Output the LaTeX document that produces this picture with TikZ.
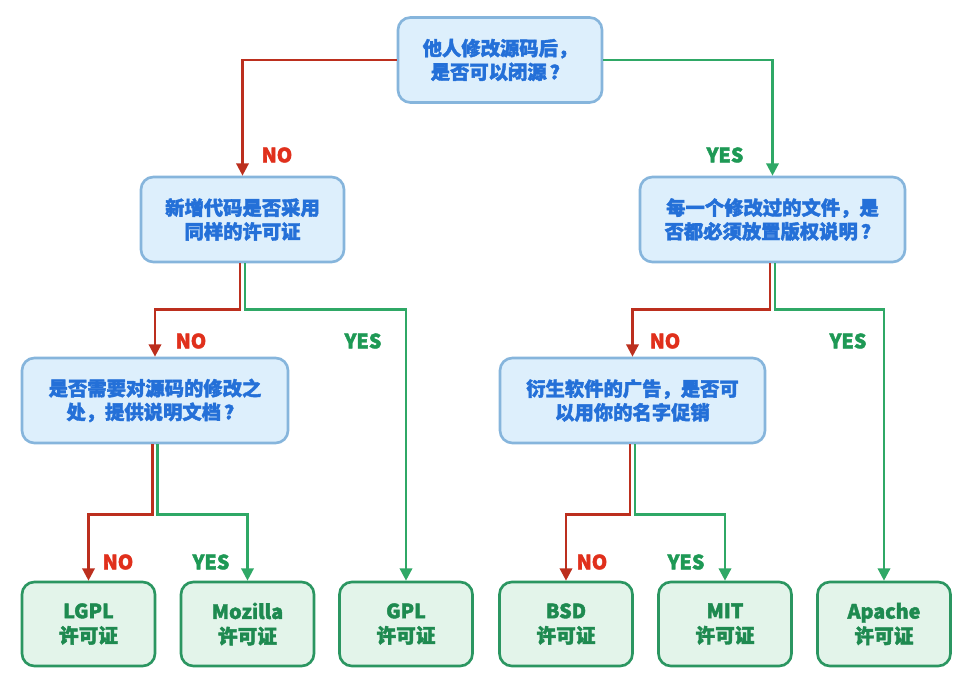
\documentclass[tikz,border=0pt]{standalone}
\usepackage{fontspec}
\setmainfont{Noto Sans CJK SC}[BoldFeatures={FakeBold=2}]
\usetikzlibrary{arrows.meta}
\definecolor{qfill}{HTML}{DDEFFC}
\definecolor{qdraw}{HTML}{86B5DC}
\definecolor{qtext}{HTML}{2470D8}
\definecolor{lfill}{HTML}{E3F4EA}
\definecolor{ldraw}{HTML}{2B9661}
\definecolor{ltext}{HTML}{1E8A50}
\definecolor{redline}{HTML}{BC2F1E}
\definecolor{redtext}{HTML}{E0301C}
\definecolor{greenline}{HTML}{2FA866}
\definecolor{greentext}{HTML}{1E9955}
\tikzset{
  qbox/.style={draw=qdraw, fill=qfill, line width=1.5pt, rounded corners=7pt,
    minimum height=1.7cm, align=center, text=qtext,
    font=\fontsize{11}{13.5}\selectfont\bfseries},
  leaf/.style={draw=ldraw, fill=lfill, line width=1.5pt, rounded corners=7pt,
    minimum width=2.66cm, minimum height=1.68cm, align=center, text=ltext,
    font=\fontsize{11.2}{14}\selectfont\bfseries},
  nolink/.style={draw=redline, line width=1.4pt, -{Triangle[width=7pt,length=7pt]}},
  yeslink/.style={draw=greenline, line width=1.4pt, -{Triangle[width=7pt,length=7pt]}},
  nolab/.style={text=redtext, font=\fontsize{11.2}{13}\selectfont\bfseries},
  yeslab/.style={text=greentext, font=\fontsize{11.2}{13}\selectfont\bfseries}
}
\begin{document}
\begin{tikzpicture}[x=0.02cm,y=-0.02cm]
\useasboundingbox (0,0) rectangle (967,688);
% question nodes
\node[qbox, minimum width=4.08cm] (top) at (500,60) {他人修改源码后，\\是否可以闭源\,？};
\node[qbox, minimum width=4.06cm] (a) at (242.5,219.5) {新增代码是否采用\\同样的许可证};
\node[qbox, minimum width=5.3cm] (b) at (772.5,219.5) {每一个修改过的文件，是\\否都必须放置版权说明\,？};
\node[qbox, minimum width=5.32cm] (c) at (155,400.5) {是否需要对源码的修改之\\处，提供说明文档\,？};
\node[qbox, minimum width=5.3cm] (d) at (632.5,400.5) {衍生软件的广告，是否可\\以用你的名字促销};
% leaves
\node[leaf] (lgpl) at (88.5,624) {LGPL\\许可证};
\node[leaf] (moz) at (247.5,624) {Mozilla\\许可证};
\node[leaf] (gpl) at (406,624) {GPL\\许可证};
\node[leaf] (bsd) at (566,624) {BSD\\许可证};
\node[leaf] (mit) at (725,624) {MIT\\许可证};
\node[leaf] (apache) at (884,624) {Apache\\许可证};
% connectors
\draw[nolink] (top.west) -| (a.north);
\draw[yeslink] (top.east) -| (b.north);
\draw[nolink] ([xshift=-0.05cm]a.south) -- ++(0,46) -| (c.north);
\draw[yeslink] ([xshift=0.05cm]a.south) -- ++(0,46) -| (gpl.north);
\draw[nolink] ([xshift=-0.05cm]b.south) -- ++(0,46) -| (d.north);
\draw[yeslink] ([xshift=0.05cm]b.south) -- ++(0,46) -| (apache.north);
\draw[nolink] ([xshift=-0.05cm]c.south) -- ++(0,70) -| (lgpl.north);
\draw[yeslink] ([xshift=0.05cm]c.south) -- ++(0,70) -| (moz.north);
\draw[nolink] ([xshift=-0.05cm]d.south) -- ++(0,70) -| (bsd.north);
\draw[yeslink] ([xshift=0.05cm]d.south) -- ++(0,70) -| (mit.north);
% labels
\node[nolab] (n1) at (277,155) {NO};
\node[yeslab] (y1) at (725,155) {YES};
\node[nolab] (n2) at (191,341) {NO};
\node[yeslab] (y2) at (363,341) {YES};
\node[nolab] (n3) at (665,341) {NO};
\node[yeslab] (y3) at (848,341) {YES};
\node[nolab] (n4) at (118,562) {NO};
\node[yeslab] (y4) at (211,562) {YES};
\node[nolab] (n5) at (592,562) {NO};
\node[yeslab] (y5) at (686,562) {YES};
\end{tikzpicture}
\end{document}
